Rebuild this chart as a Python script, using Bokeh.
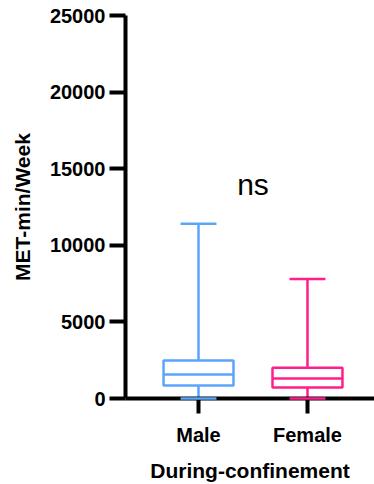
from bokeh.plotting import figure
from bokeh.models import Range1d, FixedTicker, Label
from bokeh.embed import file_html
from bokeh.resources import INLINE

# Data
categories = ["Male", "Female"]
q_min = [0, 0]
q1 = [850, 720]
median = [1560, 1300]
q3 = [2480, 2000]
q_max = [11400, 7800]
colors = ["#5AA5FA", "#FF1E8C"]
y_ticks = [0, 5000, 10000, 15000, 20000, 25000]
x_title = "During-confinement"
y_title = "MET-min/Week"
sig_label = "ns"

FONT = "Liberation Sans"

xs = [i + 1 for i in range(len(categories))]

p = figure(width=374, height=484, output_backend="svg", toolbar_location=None,
           x_range=Range1d(0.33, 2.615), y_range=Range1d(0, 25000),
           min_border_left=125, min_border_top=15, min_border_bottom=85, min_border_right=0)
p.outline_line_color = None
p.xgrid.visible = False
p.ygrid.visible = False

box_w = 0.642
cap_w = 0.33

for i, x in enumerate(xs):
    c = colors[i]
    # whiskers
    p.segment(x0=[x, x], y0=[q3[i], q1[i]], x1=[x, x], y1=[q_max[i], q_min[i]],
              line_color=c, line_width=2.5)
    # box
    p.vbar(x=[x], top=[q3[i]], bottom=[q1[i]], width=box_w, fill_color="white",
           line_color=c, line_width=2.5)
    # median
    p.segment(x0=[x - box_w / 2], y0=[median[i]], x1=[x + box_w / 2], y1=[median[i]],
              line_color=c, line_width=2.5)
    # caps
    r = p.segment(x0=[x - cap_w / 2, x - cap_w / 2], y0=[q_max[i], q_min[i]],
                  x1=[x + cap_w / 2, x + cap_w / 2], y1=[q_max[i], q_min[i]],
                  line_color=c, line_width=2.5)
    r.level = "overlay"

# axes
for ax in (p.xaxis[0], p.yaxis[0]):
    ax.axis_line_width = 4
    ax.major_tick_line_width = 4
    ax.axis_line_color = "black"
    ax.major_tick_line_color = "black"
    ax.minor_tick_line_color = None
    ax.major_tick_in = 0
    ax.major_label_text_font = FONT
    ax.major_label_text_font_style = "bold"
    ax.major_label_text_font_size = "20px"
    ax.major_label_text_color = "black"
    ax.axis_label_text_font = FONT
    ax.axis_label_text_font_style = "bold"
    ax.axis_label_text_font_size = "21px"
    ax.axis_label_text_color = "black"

p.yaxis.ticker = FixedTicker(ticks=y_ticks)
p.yaxis.major_tick_out = 16
p.yaxis.major_label_standoff = 4
p.yaxis.axis_label = y_title
p.yaxis.axis_label_standoff = 13

p.xaxis.ticker = FixedTicker(ticks=xs)
p.xaxis.major_label_overrides = {x: c for x, c in zip(xs, categories)}
p.xaxis.major_tick_out = 15
p.xaxis.major_label_standoff = 10
p.xaxis.axis_label = x_title
p.xaxis.axis_label_standoff = 10

p.add_layout(Label(x=(xs[0] + xs[1]) / 2, y=14000, text=sig_label, text_align="center",
                   text_baseline="alphabetic", text_font=FONT, text_font_size="30px",
                   text_color="black"))

open("out.html", "w").write(file_html(p, INLINE))
